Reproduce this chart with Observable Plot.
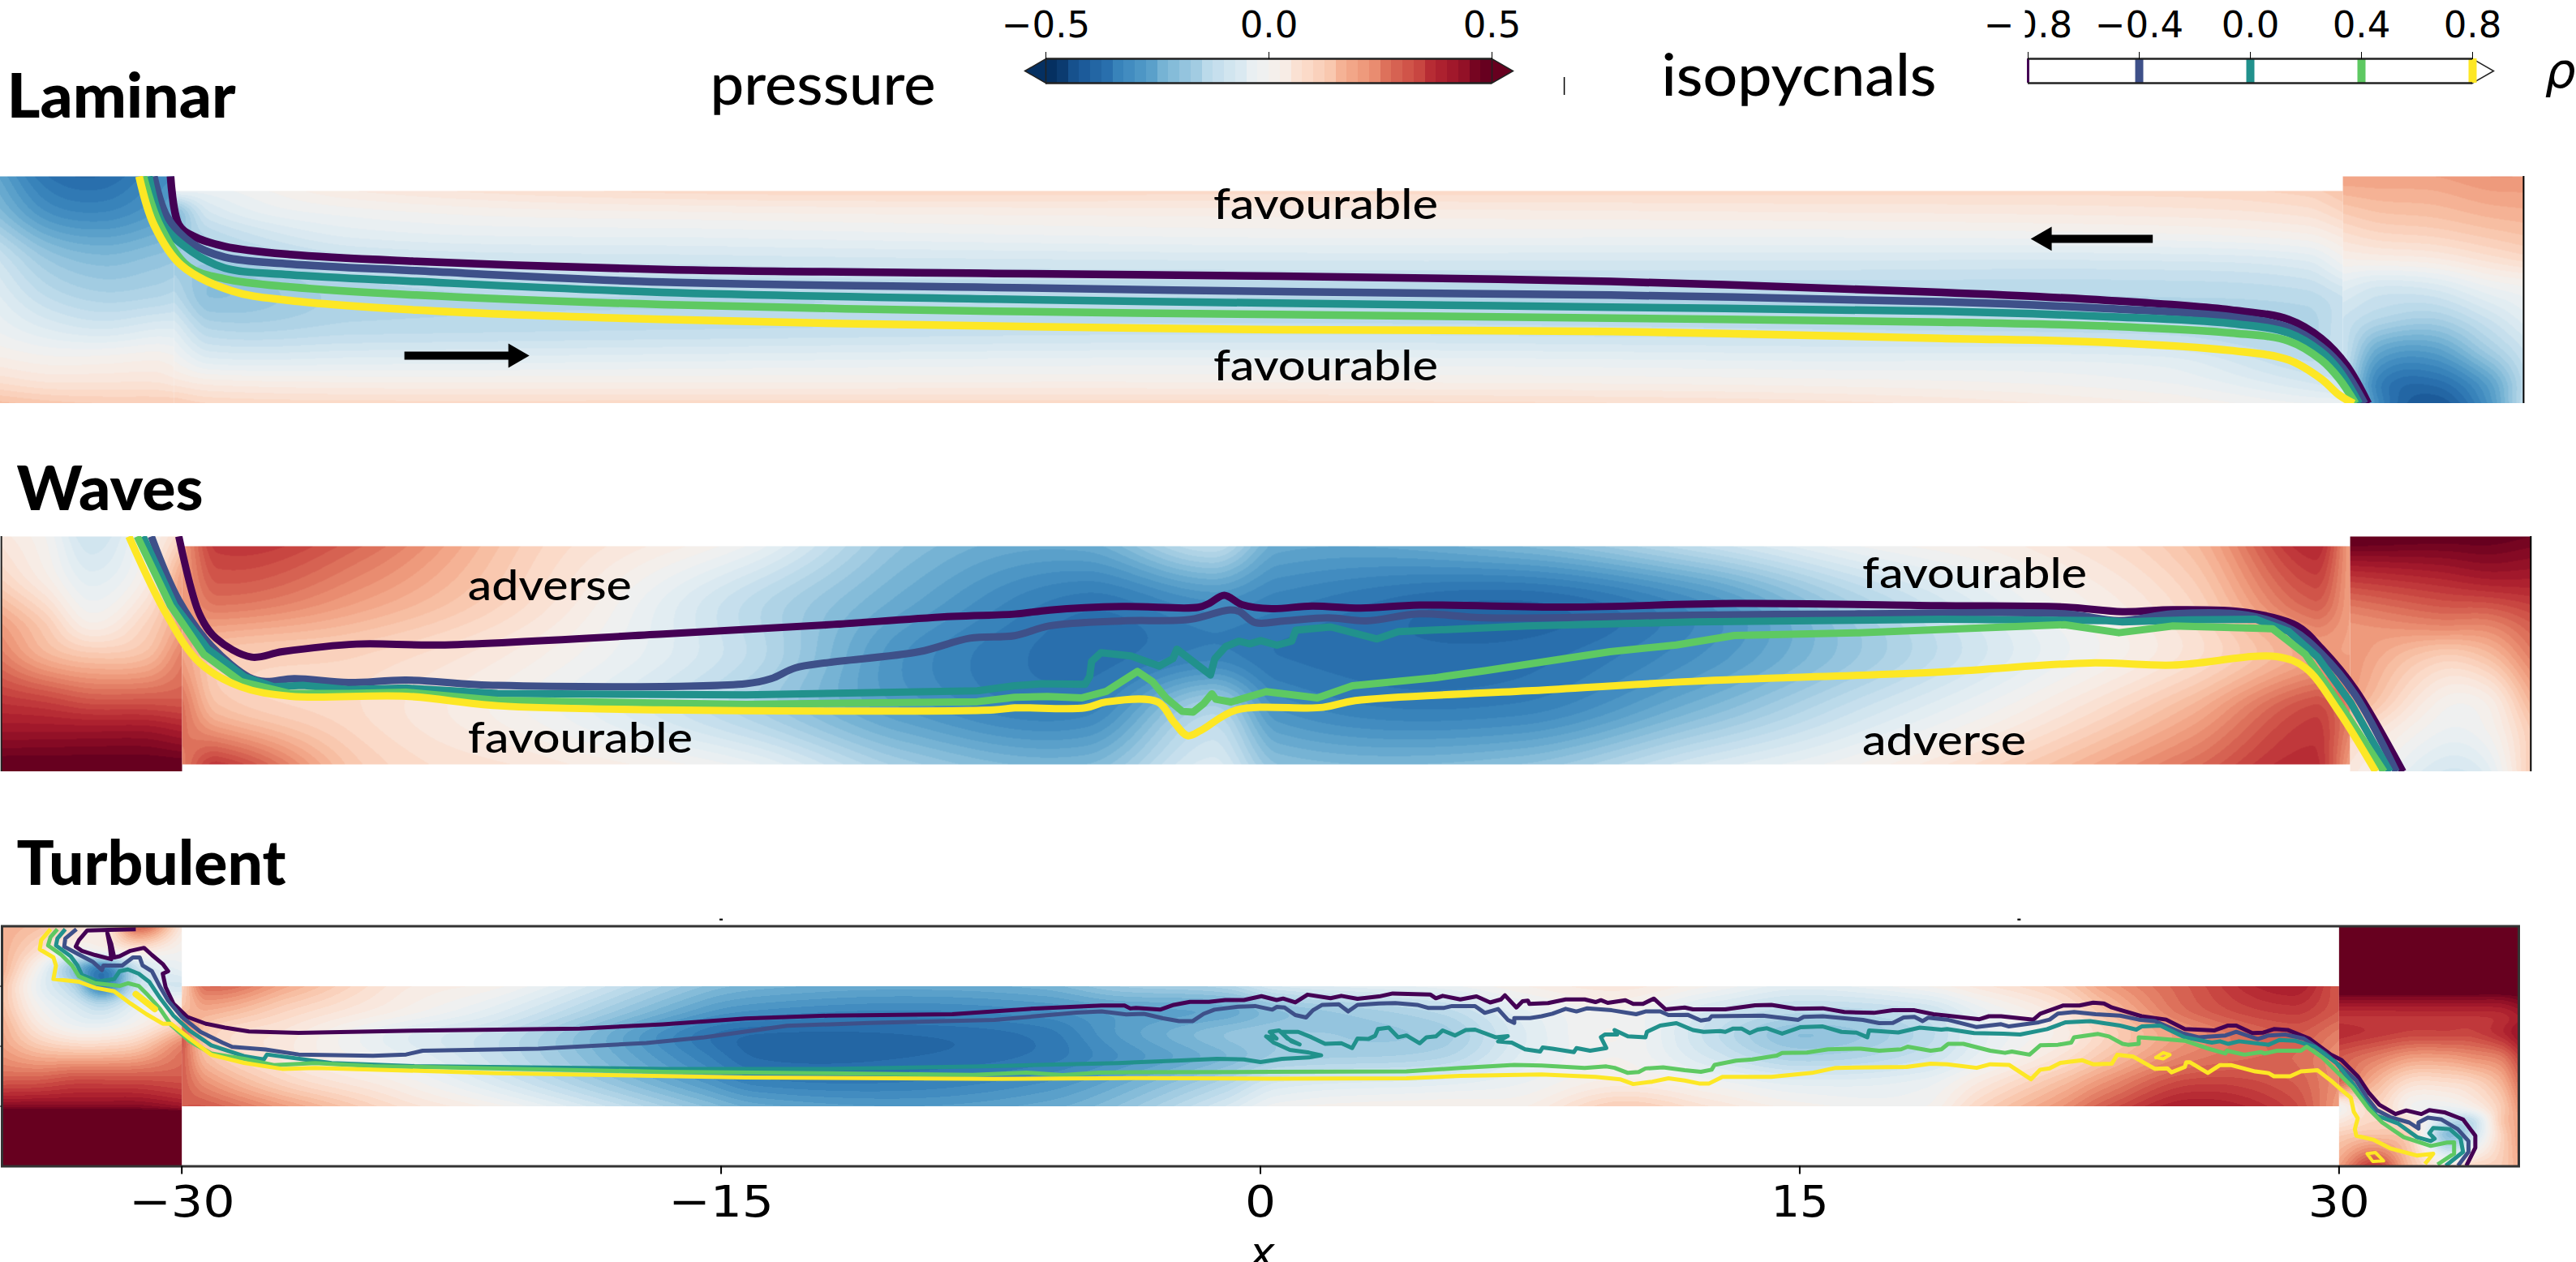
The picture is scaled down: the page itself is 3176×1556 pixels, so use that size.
<!DOCTYPE html>
<html><head><meta charset="utf-8">
<style>
html,body{margin:0;padding:0;background:#fff;width:3176px;height:1556px;overflow:hidden}
#page{position:relative;width:3176px;height:1556px;overflow:hidden}
#page svg{position:absolute;left:0;display:block;max-width:none;background:none}
</style>
<script src="https://cdn.jsdelivr.net/npm/d3@7"></script>
<script src="https://cdn.jsdelivr.net/npm/@observablehq/plot@0.6"></script>
</head><body><div id="page"></div>
<script>
// ---------- shared ----------
const rhoLevels = [-0.8,-0.4,0,0.4,0.8];
const rhoColors = ["#440154","#3e5089","#21918c","#5ec962","#fde725"];
const pressureTicks = [-0.5,0,0.5];
const xTicks = [-30,-15,0,15,30];
const colorBands = 40;

// ---------- pressure fields (columns xs, rows ys, values p) ----------
const lamLeftXs=[-35,-33.5,-32,-30.5,-30], lamResYs=[1.137,.8,.4,0,-.3,-.55,-.8,-1];
const lamLeftP=[
[-.25,-.36,-.38,-.32,-.3],[-.2,-.3,-.32,-.28,-.25],[-.1,-.19,-.22,-.2,-.19],[-.05,-.12,-.15,-.14,-.13],
[-.02,-.06,-.08,-.06,-.06],[.02,0,0,.01,.0],[.08,.06,.06,.06,.05],[.15,.13,.12,.12,.12]];
const lamChanXs=[-30,-29,-25,-15,0,15,25,29,30], lamChanYs=[1,.8,.6,.3,0,-.3,-.6,-.8,-1];
const lamChanP=[
[-.03,-.03,.04,.09,.09,.09,.09,.11,.14],
[-.22,-.08,-.01,.02,.03,.04,.05,.07,.1],
[-.2,-.13,-.05,-.03,-.01,-.01,0,.02,.05],
[-.17,-.18,-.12,-.1,-.09,-.09,-.09,-.07,-.02],
[-.13,-.2,-.15,-.14,-.14,-.14,-.14,-.13,-.1],
[-.06,-.14,-.13,-.12,-.11,-.12,-.13,-.15,-.1],
[0,-.05,-.05,-.04,-.03,-.04,-.05,-.12,-.1],
[.05,.03,.02,.02,.02,.01,-.02,-.08,-.1],
[.12,.1,.09,.09,.09,.07,.02,-.02,-.02]];
const lamRightXs=[30,31,32.5,34,35], lamRightYs=[1.137,.7,.4,.1,-.2,-.5,-.8,-1];
const lamRightP=[
[.2,.2,.2,.22,.22],[.1,.12,.13,.15,.16],[.03,.04,.05,.08,.1],[-.05,-.08,-.07,-.02,0],
[-.1,-.14,-.16,-.1,-.05],[-.1,-.25,-.27,-.17,-.1],[-.1,-.33,-.37,-.27,-.13],[-.05,-.32,-.42,-.3,-.12]];

const wavLeftXs=[-35,-33.8,-32.5,-31,-30], wavResYs=[1.089,.7,.3,0,-.4,-.7,-1.067];
const wavLeftP=[
[.05,0,-.1,0,.1],[.1,.03,-.05,.03,.2],[.2,.12,.02,.1,.2],[.25,.17,.13,.15,.25],
[.35,.33,.3,.3,.3],[.42,.42,.42,.42,.4],[.52,.52,.52,.52,.52]];
const wavChanXs=[-30,-29,-25,-20,-14.4,-10,-5,-1.5,.35,7,12,16.4,21,25.6,29,30], wavChanYs=[1,.5,0,-.5,-1];
const wavChanP=[
[.2,.35,.28,.1,-.02,-.2,-.25,-.12,-.25,-.22,-.12,-.02,.04,.15,.38,.2],
[.2,.27,.2,.07,-.12,-.25,-.35,-.3,-.33,-.38,-.3,-.15,-.02,.1,.3,.2],
[.2,.13,.1,.02,-.12,-.3,-.37,-.33,-.36,-.37,-.3,-.18,-.05,.07,.2,.2],
[.27,.15,.08,-.01,-.15,-.28,-.33,-.15,-.3,-.33,-.22,-.1,.02,.17,.33,.25],
[.25,.35,.12,.05,-.03,-.17,-.22,-.07,-.2,-.2,-.08,0,.12,.27,.37,.2]];
const wavRightXs=[30,32.5,33.8,35];
const wavRightP=[
[.52,.5,.5,.48],[.35,.38,.4,.4],[.22,.25,.25,.3],[.22,.12,.15,.25],
[.2,.02,.03,.17],[.1,-.02,0,.12],[.05,-.08,-.05,.12]];

const turLeftXs=[-35,-34,-33,-32.2,-31.2,-30], turLeftYs=[2,1.6,1.3,1,.7,.35,0,-.5,-1,-1.15,-2];
const turLeftP=[
[.18,.15,.1,.03,.3,.05],[.18,.08,-.02,0,.05,0],[.18,0,-.2,-.33,-.1,-.03],[.15,-.03,-.15,-.33,-.1,-.08],
[.15,0,-.08,-.14,-.04,.02],[.18,.05,-.02,-.03,.02,.12],[.2,.13,.1,.1,.13,.25],[.28,.28,.3,.3,.3,.3],
[.45,.45,.45,.45,.45,.42],[.55,.55,.55,.55,.55,.55],[.55,.55,.55,.55,.55,.55]];
const turChanXs=[-30,-29.3,-27,-24,-21,-15.5,-14,-10,-6,-4,-1,.5,5,7.4,10,12.5,15,18.5,20,22.3,23.5,25.8,28.7,30];
const turChanYs=[1,.6,.2,-.2,-.6,-1];
const turChanP=[
[.1,.28,.18,.05,0,-.2,-.23,-.25,-.23,-.18,-.15,-.08,-.03,.02,.05,0,-.05,0,.05,.12,.2,.3,.4,.3],
[.15,.18,.1,.02,-.06,-.27,-.3,-.32,-.3,-.27,-.25,-.2,-.13,-.04,0,-.08,-.13,-.1,-.03,.06,.14,.28,.35,.3],
[.3,.12,.05,-.05,-.12,-.35,-.38,-.38,-.35,-.28,-.2,-.18,-.17,-.06,0,-.11,-.2,-.13,-.05,.03,.1,.22,.3,.25],
[.3,.15,.05,-.03,-.12,-.33,-.38,-.38,-.35,-.3,-.22,-.17,-.14,-.05,0,-.08,-.15,-.1,-.03,.07,.14,.25,.28,.22],
[.3,.22,.1,.02,-.08,-.28,-.33,-.34,-.3,-.25,-.15,-.08,-.05,-.02,.03,-.01,-.05,-.03,.04,.15,.22,.33,.3,.22],
[.3,.3,.2,.08,0,-.2,-.25,-.28,-.25,-.2,-.08,-.01,.02,.02,.12,.06,.01,0,.1,.22,.3,.4,.33,.2]];
const turRightXs=[30,31,32,33,33.7,34.5,35], turRightYs=[2,1,.8,.5,.2,-.2,-.6,-1,-1.25,-1.5,-2];
const turRightP=[
[.55,.55,.55,.55,.55,.55,.55],[.55,.55,.55,.55,.55,.55,.55],[.45,.45,.45,.45,.45,.45,.47],
[.36,.36,.36,.36,.36,.37,.4],[.37,.35,.33,.33,.33,.37,.42],[.3,.25,.2,.2,.22,.25,.33],
[.28,.17,.08,.08,.1,.17,.27],[0,.1,0,-.02,.02,.12,.22],[.05,.1,.06,-.12,-.12,.12,.2],
[.12,.15,.1,-.2,-.1,.1,.2],[.2,.35,.15,.05,.1,.12,.18]];

// ---------- isopycnals: [x, y] readings ----------
const lamA=[[-30.1,1.137],[-29.87,.682],[-29.5,.58],[-28.6,.478],[-26.8,.402],[-23.3,.338],[-16.5,.262],[-7.3,.224],[.58,.198],[9.75,.148],[18.9,.046],[23.5,-.03],[26.9,-.12],[28.5,-.21],[29.4,-.387],[30.1,-.64],[30.7,-1]];
const lamB=[[-30.56,1.137],[-30.2,.758],[-29.5,.504],[-28.6,.377],[-26.8,.313],[-23.3,.249],[-16.5,.142],[-7.3,.092],[1.1,.051],[9.75,.02],[18.9,-.043],[23.5,-.107],[26.9,-.183],[28.5,-.285],[29.4,-.463],[30,-.667],[30.6,-1]];
const lamC=[[-30.7,1.137],[-30.3,.682],[-29.5,.427],[-28.6,.275],[-26.8,.211],[-23.3,.148],[-16.5,.046],[-7.3,-.018],[.58,-.056],[9.75,-.094],[18.9,-.132],[23.5,-.183],[26.9,-.247],[28.5,-.336],[29.4,-.514],[29.9,-.692],[30.45,-1]];
const lamD=[[-30.85,1.137],[-30.4,.682],[-29.6,.288],[-28.6,.173],[-26.8,.097],[-23.3,.02],[-16.5,-.069],[-7.3,-.132],[.58,-.163],[9.75,-.196],[18.9,-.234],[23.5,-.272],[26.9,-.336],[28.5,-.412],[29.4,-.59],[29.9,-.768],[30.35,-1]];
const lamE=[[-30.97,1.137],[-30.56,.682],[-29.8,.3],[-28.4,.059],[-26.8,-.031],[-23.3,-.12],[-16.5,-.209],[-7.3,-.272],[.58,-.305],[9.75,-.323],[18.9,-.387],[23.5,-.425],[26.9,-.501],[28.5,-.59],[29.4,-.768],[29.9,-.921],[30.3,-1]];

const wavA=[[-30.09,1.09],[-29.52,.38],[-29.06,.157],[-28.08,-.016],[-27.23,.033],[-25.17,.103],[-22.88,.095],[-16.69,.195],[-12.11,.28],[-8.68,.356],[-6.96,.378],[-5.99,.415],[-3.97,.447],[-1.87,.44],[-1.57,.477],[-1.16,.55],[-.67,.465],[.15,.428],[1.27,.452],[2.62,.433],[4.25,.46],[8.38,.442],[12.96,.475],[18.7,.455],[22.1,.442],[23.7,.4],[25.1,.418],[27.16,.393],[28.53,.27],[29.22,.058],[30.14,-.313],[31.46,-1.067]];
const wavB=[[-30.85,1.09],[-30.09,.504],[-29.18,.083],[-28.15,-.2],[-27.69,-.24],[-26.9,-.214],[-25.4,-.25],[-23.8,-.227],[-21.27,-.276],[-14.4,-.26],[-13.7,-.214],[-13.03,-.115],[-12.11,-.066],[-9.6,.033],[-8.2,.157],[-6.96,.18],[-5.99,.27],[-3.97,.316],[-2.1,.33],[-1.05,.415],[-.75,.403],[-.3,.3],[.52,.316],[1.73,.343],[2.77,.316],[4.25,.38],[6.09,.343],[11.8,.368],[16.4,.38],[22.1,.38],[23.6,.318],[25.1,.38],[27.16,.368],[28.4,.232],[29.22,.009],[30.14,-.363],[31.28,-1.067]];
const wavC=[[-31.08,1.09],[-30.2,.455],[-29.29,.058],[-28.26,-.2],[-27.46,-.289],[-26.66,-.276],[-25.4,-.314],[-23.8,-.3],[-21.27,-.35],[-14.4,-.363],[-7.99,-.326],[-6.96,-.279],[-6.21,-.261],[-5.01,-.266],[-4.88,-.192],[-4.83,-.056],[-4.57,.024],[-3.74,-.006],[-2.96,-.098],[-2.58,-.031],[-2.47,.056],[-1.54,-.18],[-1.42,-.031],[-1.12,.08],[-.75,.13],[-.45,.105],[-.15,.135],[.3,.093],[.71,.13],[.82,.23],[1.79,.26],[3.07,.15],[3.66,.217],[7.23,.269],[11.8,.306],[18.7,.33],[23.26,.318],[23.7,.306],[25.55,.326],[27.39,.33],[28.3,.219],[29.1,-.016],[30.02,-.437],[31.1,-1.067]];
const wavD=[[-31.24,1.09],[-30.32,.455],[-29.4,.009],[-28.37,-.24],[-27,-.35],[-25.4,-.35],[-23.8,-.338],[-21.27,-.413],[-14.4,-.45],[-7.99,-.425],[-6.96,-.385],[-6.06,-.378],[-5.09,-.39],[-4.42,-.33],[-3.56,-.148],[-3.14,-.242],[-2.77,-.39],[-2.32,-.514],[-2.02,-.52],[-1.72,-.44],[-1.5,-.353],[-1.39,-.403],[-.97,-.428],[0,-.333],[1.42,-.39],[2.39,-.279],[4.71,-.204],[6.09,-.14],[9.52,.033],[11.35,.095],[12.96,.182],[16.4,.207],[22.1,.281],[23.6,.207],[25.1,.269],[27.85,.244],[28.76,.009],[29.79,-.487],[30.94,-1.067]];
const wavE=[[-31.47,1.09],[-30.44,.38],[-29.52,-.066],[-28.37,-.289],[-27,-.375],[-23.8,-.375],[-21.27,-.462],[-16.69,-.5],[-7.53,-.5],[-6.96,-.482],[-5.01,-.482],[-4.42,-.427],[-3,-.427],[-2.55,-.613],[-2.17,-.737],[-1.8,-.688],[-.83,-.502],[1.57,-.477],[2.47,-.415],[7.23,-.326],[11.8,-.239],[18.7,-.152],[22.8,-.07],[25.1,-.09],[27.96,-.011],[28.76,-.115],[29.68,-.512],[30.71,-1.067]];

const turA=[[-31.28,1.95],[-32.03,1.94],[-32.63,1.93],[-32.86,1.77],[-32.95,1.66],[-32.78,1.59],[-32.41,1.52],[-31.96,1.45],[-32,1.66],[-32.07,1.885],[-31.96,1.7],[-31.88,1.48],[-31.73,1.5],[-31.43,1.59],[-31.05,1.64],[-30.83,1.52],[-30.53,1.37],[-30.38,1.25],[-30.53,1.21],[-30.45,.985],[-30.23,.71],[-29.85,.49],[-29.33,.375],[-28.8,.31],[-28.13,.246],[-26.75,.222],[-23.53,.26],[-18.93,.294],[-16.62,.366],[-14.32,.462],[-12.02,.51],[-8.57,.534],[-6.26,.63],[-4.42,.678],[-3.78,.678],[-3.62,.63],[-3.46,.64],[-2.79,.61],[-2.41,.69],[-1.96,.74],[-1.43,.74],[-.98,.77],[-.46,.77],[.03,.835],[.45,.77],[.63,.795],[.97,.73],[1.31,.86],[1.95,.8],[2.25,.84],[2.7,.79],[3.3,.83],[3.68,.88],[4.73,.86],[4.88,.8],[5.07,.84],[5.56,.78],[6.01,.83],[6.39,.73],[6.69,.78],[6.8,.85],[7.12,.646],[7.29,.75],[7.44,.76],[7.48,.705],[8.0,.72],[8.49,.78],[9.02,.78],[9.32,.736],[9.47,.768],[9.66,.723],[10.15,.768],[10.37,.705],[10.64,.705],[10.94,.795],[11.27,.615],[11.8,.646],[12.03,.615],[12.93,.615],[13.76,.682],[14.21,.69],[14.88,.624],[15.64,.633],[16.24,.57],[17.06,.556],[17.59,.6],[18.19,.6],[18.72,.534],[19.1,.51],[20,.45],[20.26,.5],[20.6,.5],[21.5,.444],[21.69,.543],[22.33,.68],[22.78,.68],[23.16,.727],[23.46,.714],[23.68,.646],[24.51,.5],[25.19,.444],[25.71,.286],[26.54,.264],[26.9,.344],[27.14,.344],[27.59,.22],[27.89,.228],[28.19,.286],[28.57,.272],[29.17,.128],[29.77,-.14],[30.07,-.23],[30.52,-.5],[30.82,-.77],[31.12,-.975],[31.57,-1.13],[31.87,-1.07],[32.29,-1.13],[32.51,-1.065],[32.93,-1.1],[33.45,-1.22],[33.79,-1.49],[33.79,-1.69],[33.54,-1.99]];
const turB=[[-32.93,1.95],[-33.24,1.795],[-33.27,1.66],[-32.93,1.55],[-32.48,1.41],[-32.22,1.27],[-32.18,1.345],[-31.66,1.345],[-31.36,1.48],[-31.17,1.48],[-31.09,1.345],[-30.83,1.25],[-30.6,.985],[-30.38,.76],[-30,.49],[-29.48,.24],[-28.87,.06],[-28.6,-.01],[-27.67,-.055],[-26.75,-.137],[-24.68,-.16],[-23.76,-.137],[-23.3,-.075],[-20.08,-.04],[-17.08,.055],[-15.47,.15],[-13.17,.34],[-10.87,.39],[-7.4,.44],[-5.11,.56],[-4.42,.58],[-3.73,.53],[-3.24,.54],[-2.71,.467],[-2.26,.42],[-1.88,.42],[-1.58,.54],[-1.28,.61],[-.61,.66],[-.15,.67],[.33,.61],[.45,.655],[.67,.646],[.97,.52],[1.27,.48],[1.46,.6],[1.72,.69],[2.18,.7],[2.44,.58],[2.7,.69],[3.3,.714],[3.75,.72],[4.36,.69],[4.66,.64],[5.11,.64],[5.33,.67],[5.97,.67],[6.24,.556],[6.61,.62],[6.88,.44],[7.06,.39],[7.06,.47],[7.5,.47],[7.82,.5],[8.12,.543],[8.49,.624],[8.79,.58],[9.09,.633],[9.77,.6],[10.45,.534],[10.71,.58],[11.12,.58],[11.35,.52],[11.88,.525],[12.25,.43],[12.48,.45],[12.55,.5],[13.98,.51],[14.96,.44],[15.11,.49],[15.64,.5],[16.76,.44],[17.21,.385],[17.59,.39],[17.89,.48],[18.19,.49],[18.42,.42],[18.57,.475],[19.1,.444],[19.92,.32],[20.6,.367],[20.82,.33],[21.65,.4],[21.95,.444],[22.18,.543],[22.63,.57],[23.23,.534],[23.91,.51],[24.43,.444],[24.88,.42],[25.64,.218],[26.09,.15],[26.84,.18],[27.14,.24],[27.74,.12],[28.04,.18],[28.5,.196],[29.02,.128],[29.62,-.12],[30.15,-.39],[30.48,-.57],[30.78,-.86],[31.05,-1.065],[31.42,-1.18],[31.95,-1.27],[32.21,-1.37],[32.21,-1.27],[32.47,-1.19],[32.85,-1.22],[33.3,-1.38],[33.6,-1.58],[33.6,-1.76],[33.31,-1.99]];
const turC=[[-33.24,1.95],[-33.46,1.795],[-33.5,1.68],[-33.09,1.5],[-32.9,1.345],[-32.78,1.19],[-32.33,1.08],[-31.88,1.12],[-31.73,1.25],[-31.5,1.28],[-31.2,1.21],[-30.9,1.07],[-30.6,.8],[-30.23,.51],[-29.78,.26],[-29.18,.015],[-28.27,-.165],[-27.72,-.22],[-27.63,-.137],[-25.83,-.28],[-23.53,-.33],[-16.62,-.377],[-12.02,-.377],[-7.42,-.33],[-3.96,-.28],[-3.46,-.268],[-2.34,-.24],[-1.21,-.21],[-.46,-.22],[0,-.264],[.6,-.21],[1.35,-.187],[1.69,-.15],[1.35,-.106],[.82,-.06],[.37,.06],[.16,.164],[.45,.128],[.26,.24],[.52,.264],[.86,.083],[1.09,.03],[.75,.128],[.56,.24],[1.05,.24],[1.42,.15],[1.8,.04],[2.25,.05],[2.55,-.03],[2.7,.128],[3,.12],[3.19,.174],[3.27,.286],[3.57,.31],[3.83,.15],[4.06,.18],[4.43,.05],[4.62,.15],[4.88,.164],[5.07,.264],[5.41,.18],[5.71,.27],[5.97,.277],[6.54,.15],[6.88,.17],[6.61,.08],[6.99,.06],[7.36,-.05],[7.78,-.088],[7.85,-.02],[8.12,-.04],[8.72,-.097],[8.79,-.03],[9.17,-.075],[9.62,-.03],[9.47,.15],[9.58,.196],[9.92,.196],[9.85,.27],[10.22,.164],[10.71,.15],[10.75,.24],[11.12,.345],[11.57,.385],[12.03,.27],[12.33,.24],[12.78,.254],[12.93,.24],[13.15,.295],[13.38,.295],[13.61,.22],[13.83,.277],[14.09,.3],[14.51,.21],[15.03,.318],[15.64,.33],[16.16,.24],[16.58,.227],[16.88,.15],[16.93,.264],[17.74,.23],[18.34,.31],[18.94,.277],[19.1,.286],[19.85,.22],[20.67,.21],[21.13,.196],[21.88,.286],[22.4,.4],[23.08,.42],[23.91,.344],[24.36,.277],[24.51,.33],[25.03,.344],[25.71,.15],[26.46,.06],[26.69,.083],[26.92,.04],[27.22,.083],[28.04,.025],[28.34,.106],[28.79,.09],[29.32,-.007],[29.92,-.277],[30.41,-.64],[30.74,-.93],[31.05,-1.155],[31.65,-1.29],[32.17,-1.515],[32.55,-1.58],[32.66,-1.54],[32.51,-1.45],[32.62,-1.36],[33.08,-1.38],[33.38,-1.54],[33.45,-1.76],[32.97,-1.99]];
const turD=[[-33.46,1.95],[-33.65,1.82],[-33.72,1.68],[-33.35,1.525],[-33.05,1.345],[-32.86,1.164],[-32.41,1.05],[-31.73,1.006],[-31.5,1.05],[-31.2,1.006],[-30.94,.85],[-30.6,.62],[-30.3,.355],[-29.78,.083],[-29.18,-.12],[-28.27,-.21],[-27.44,-.314],[-26.29,-.28],[-24.68,-.33],[-16.62,-.425],[-12.02,-.45],[-9,-.47],[-8,-.475],[-6.5,-.44],[-5.5,-.48],[-4.5,-.44],[-3.46,-.434],[.3,-.426],[4.06,-.42],[5.56,-.36],[7.06,-.31],[7.82,-.32],[9.02,-.36],[9.62,-.336],[9.85,-.36],[10.22,-.444],[10.52,-.43],[10.71,-.37],[11.2,-.35],[11.8,-.4],[12.25,-.426],[12.55,-.39],[12.63,-.31],[13.23,-.24],[13.68,-.22],[14.36,-.155],[14.51,-.11],[15.2,-.106],[15.79,-.05],[16.69,-.04],[17.21,-.074],[17.82,-.05],[18,-.007],[18.64,-.074],[18.94,-.05],[19.13,.04],[19.55,.04],[20.3,-.074],[20.71,-.11],[20.9,-.088],[21.39,-.14],[21.69,.016],[22.18,.025],[22.55,.06],[22.63,.15],[23.3,.205],[23.6,.164],[23.98,.04],[24.13,.025],[24.43,.04],[24.43,.15],[24.96,.128],[25.71,.092],[26.31,-.03],[26.84,-.12],[26.88,-.074],[27.37,-.14],[27.82,-.097],[27.93,-.12],[28.27,-.074],[28.94,-.074],[29.1,-.007],[29.54,-.19],[30.37,-.68],[30.82,-1.04],[31.2,-1.27],[31.8,-1.515],[32.55,-1.66],[33,-1.605],[33.2,-1.6],[33.2,-1.79],[32.74,-1.97]];
const turE=[[-33.65,1.95],[-33.91,1.77],[-33.95,1.615],[-33.57,1.48],[-33.5,1.345],[-33.57,1.12],[-32.86,1.074],[-32.41,.975],[-31.88,.916],[-31.43,.714],[-30.98,.534],[-30.53,.376],[-30.3,.376],[-29.78,.128],[-29.18,-.142],[-28.27,-.277],[-27.21,-.377],[-26.29,-.36],[-21.23,-.448],[-14.32,-.52],[-7.42,-.544],[-3.46,-.53],[.3,-.54],[4.06,-.533],[5.56,-.493],[7.82,-.47],[9.32,-.51],[10,-.55],[10.37,-.63],[10.9,-.59],[11.35,-.534],[11.8,-.57],[12.2,-.62],[12.48,-.62],[12.85,-.51],[14.21,-.51],[15.34,-.444],[16,-.36],[17.97,-.345],[18.64,-.29],[19.1,-.3],[19.92,-.36],[20.3,-.3],[20.82,-.31],[21.43,-.55],[21.69,-.39],[21.95,-.367],[22.25,-.277],[22.85,-.232],[23.16,-.3],[23.68,-.29],[23.83,-.142],[24.28,-.173],[24.88,-.376],[25.22,-.367],[25.34,-.435],[25.71,-.345],[25.75,-.268],[25.86,-.268],[26.35,-.444],[26.69,-.313],[26.99,-.313],[27.67,-.42],[28.04,-.448],[28.19,-.5],[28.64,-.5],[28.94,-.42],[29.4,-.4],[29.77,-.57],[30.07,-.727],[30.33,-.86],[30.41,-1.09],[30.52,-1.2],[30.44,-1.38],[30.48,-1.49],[30.97,-1.56],[31.42,-1.7],[32.16,-1.82],[32.62,-1.79],[32.39,-1.96]];
const turEBlob=[[-31.28,.87],[-30.75,.62]];
const turELoopA=[[24.9,-.187],[25.11,-.106],[25.3,-.142],[25.11,-.21],[24.9,-.187]];
const turELoopB=[[30.78,-1.79],[31.01,-1.77],[31.24,-1.91],[30.94,-1.92],[30.78,-1.79]];

// ---------- layout ----------
const page=document.getElementById("page");
const colorScale={type:"quantize",n:colorBands,scheme:"RdBu",reverse:true,domain:[-0.5,0.5]};
const tickFont="DejaVu Sans", labelFont="Lato";
const minus=d=>String(d).replace("-","−");
const fixed=d=>d.toFixed(1).replace("-","−");

// Smooth reading of a table of values, drawn by Plot.raster as a sampled field
function hermite(xs,vs,x){
  const n=xs.length;
  let i=d3.bisectRight(xs,x)-1;
  i=Math.max(0,Math.min(n-2,i));
  const h=xs[i+1]-xs[i], t=(x-xs[i])/h;
  const m0=i>0?(vs[i+1]-vs[i-1])/(xs[i+1]-xs[i-1]):(vs[1]-vs[0])/(xs[1]-xs[0]);
  const m1=i<n-2?(vs[i+2]-vs[i])/(xs[i+2]-xs[i]):(vs[n-1]-vs[n-2])/(xs[n-1]-xs[n-2]);
  const t2=t*t,t3=t2*t;
  return (2*t3-3*t2+1)*vs[i]+(t3-2*t2+t)*h*m0+(-2*t3+3*t2)*vs[i+1]+(t3-t2)*h*m1;
}
function grid(xs,ys,p){
  const order=d3.range(ys.length).sort((a,b)=>ys[a]-ys[b]);
  const sy=order.map(j=>ys[j]), rows=order.map(j=>p[j]);
  const memo=new Map();
  const column=x=>{let c=memo.get(x);if(!c){c=rows.map(r=>hermite(xs,r,x));memo.set(x,c);}return c;};
  return Plot.raster({fill:(x,y)=>hermite(sy,column(x),y),pixelSize:1,
    x1:xs[0],x2:xs[xs.length-1],y1:sy[0],y2:sy[sy.length-1]});
}
function iso(series,width,curves){
  return series.map((s,i)=>Plot.line(s,{x:d=>d[0],y:d=>d[1],stroke:rhoColors[i],strokeWidth:width,curve:curves[i],strokeLinejoin:"round",strokeLinecap:"butt"}));
}
function notes(list,size){
  return Plot.text(list,{x:"x",y:"y",text:"t",textAnchor:"start",lineAnchor:"bottom",fontSize:size,fontWeight:500,fontFamily:labelFont,fill:"black"});
}
const fitWidths={"favourable":277,"adverse":202,"Laminar":282,"Waves":230,"Turbulent":332,"pressure":278,"isopycnals":339,
  "−30":131,"−15":130,"0":38,"15":71,"30":76};
function place(svg,top){
  svg.style.top=top+"px";
  svg.querySelectorAll("text").forEach(t=>{
    const w=fitWidths[t.textContent];
    if(w){t.setAttribute("textLength",w);t.setAttribute("lengthAdjust","spacingAndGlyphs");}
  });
  page.appendChild(svg);
}
const cr="catmull-rom", li="linear";

// Laminar panel
place(Plot.plot({width:3176,height:280,margin:0,marginRight:65,
  x:{domain:[-35,35],range:[-8.6,3110.9]},y:{domain:[-1,1.137],range:[280,0]},color:colorScale,axis:null,
  marks:[
    grid(lamLeftXs,lamResYs,lamLeftP),grid(lamChanXs,lamChanYs,lamChanP),grid(lamRightXs,lamRightYs,lamRightP),
    ...iso([lamA,lamB,lamC,lamD,lamE],9.5,[cr,cr,cr,cr,cr]),
    Plot.ruleX([35],{stroke:"black",strokeWidth:2}),
    Plot.link([{a:-23.63,b:-20.7,y:-.55},{a:24.74,b:21.9,y:.55}],{x1:"a",x2:"b",y1:"y",y2:"y",stroke:"black",strokeWidth:10}),
    Plot.dot([{x:-20.56,y:-.55,r:90},{x:21.75,y:.55,r:-90}],{x:"x",y:"y",rotate:"r",symbol:"triangle",r:11.1,fill:"black"}),
    notes([{x:-1.25,y:.733,t:"favourable"},{x:-1.25,y:-.779,t:"favourable"}],52)
  ]}),217);

// Waves panel
place(Plot.plot({width:3176,height:290,margin:0,marginRight:56,
  x:{domain:[-35,35],range:[1.2,3119.8]},y:{domain:[-1.067,1.089],range:[290,0]},color:colorScale,axis:null,
  marks:[
    grid(wavLeftXs,wavResYs,wavLeftP),grid(wavChanXs,wavChanYs,wavChanP),grid(wavRightXs,wavResYs,wavRightP),
    ...iso([wavA,wavB,wavC,wavD,wavE],9,[cr,cr,li,li,cr]),
    Plot.ruleX([35],{stroke:"black",strokeWidth:2}),
    Plot.ruleX([-35],{stroke:"#222",strokeWidth:2}),
    notes([{x:-22.09,y:.509,t:"adverse"},{x:-22.09,y:-.896,t:"favourable"},{x:16.5,y:.62,t:"favourable"},{x:16.5,y:-.911,t:"adverse"}],52)
  ]}),661);

// Turbulent panel
place(Plot.plot({width:3176,height:426,marginTop:11.5,marginBottom:118.5,marginLeft:2,marginRight:71,
  x:{domain:[-35,35]},y:{domain:[-2,2]},color:colorScale,
  marks:[
    grid(turLeftXs,turLeftYs,turLeftP),grid(turChanXs,turChanYs,turChanP),grid(turRightXs,turRightYs,turRightP),
    ...iso([turA,turB,turC,turD,turE],5,[li,li,li,li,li]),
    Plot.line(turEBlob,{x:d=>d[0],y:d=>d[1],stroke:rhoColors[4],strokeWidth:8,strokeLinecap:"round"}),
    Plot.line(turELoopA,{x:d=>d[0],y:d=>d[1],stroke:rhoColors[4],strokeWidth:4}),
    Plot.line(turELoopB,{x:d=>d[0],y:d=>d[1],stroke:rhoColors[4],strokeWidth:4}),
    Plot.frame({stroke:"#333",strokeWidth:3}),
    Plot.axisX({anchor:"bottom",ticks:xTicks,tickSize:10,tickPadding:14,tickFormat:minus,fontSize:54,fontFamily:tickFont,label:null,strokeWidth:2}),
    Plot.axisY({anchor:"left",ticks:[-1,0,1],tickSize:2,tickFormat:()=>"",label:null}),
    Plot.ruleX([-15,21.1],{y1:2.12,y2:2.09,stroke:"black",strokeWidth:4}),
    Plot.text(["x"],{x:.05,y:-3.67,text:d=>d,fontSize:52,fontFamily:tickFont,fontStyle:"italic",lineAnchor:"bottom",fill:"black"})
  ]}),1130);

// Pressure colour bar
const pressureBands=d3.range(colorBands).map(i=>{const w=1/colorBands;return {a:-.5+i*w,b:-.5+(i+1)*w,p:-.5+(i+.5)*w};});
place(Plot.plot({width:3176,height:120,marginTop:72,marginBottom:18,marginLeft:1289,marginRight:1337,
  x:{domain:[-.5,.5]},y:{domain:[0,1],axis:null},color:colorScale,
  marks:[
    Plot.rect(pressureBands,{x1:"a",x2:"b",y1:0,y2:1,fill:"p",shapeRendering:"crispEdges"}),
    Plot.ruleY([0,1],{stroke:"#222",strokeWidth:2.5}),
    Plot.dot([{x:-.5,p:-.6,r:-90}],{x:"x",y:.5,fill:"p",rotate:"r",symbol:"triangle",r:11.1,dx:-8.66,stroke:"#222",strokeWidth:1.5}),
    Plot.dot([{x:.5,p:.6,r:90}],{x:"x",y:.5,fill:"p",rotate:"r",symbol:"triangle",r:11.1,dx:8.66,stroke:"#222",strokeWidth:1.5}),
    Plot.axisX({anchor:"top",ticks:pressureTicks,tickSize:9,tickPadding:18,tickFormat:fixed,fontSize:45,fontFamily:tickFont,label:null}),
    Plot.ruleX([.662],{y1:.233,y2:-.5,stroke:"black",strokeWidth:1.5})
  ]}),0);

// Isopycnal colour bar
place(Plot.plot({width:3176,height:120,marginTop:72,marginBottom:18,marginLeft:2500,marginRight:128,
  x:{domain:[-.8,.8]},y:{domain:[0,1],axis:null},
  marks:[
    Plot.dot([.8],{x:d=>d,y:.5,rotate:90,symbol:"triangle",r:11.1,dx:8.66,fill:"white",stroke:"#222",strokeWidth:1.5}),
    ...rhoLevels.map((l,i)=>Plot.ruleX([l],{y1:0,y2:1,stroke:rhoColors[i],strokeWidth:i==0?3:10})),
    Plot.ruleY([0,1],{stroke:"#222",strokeWidth:2.5}),
    Plot.axisX({anchor:"top",ticks:rhoLevels,tickSize:9,tickPadding:18,tickFormat:fixed,fontSize:45,fontFamily:tickFont,label:null}),
    Plot.rect([{}],{x1:-.858,x2:-.81,y1:1.73,y2:3.4,fill:"white"}),
    Plot.text(["ρ"],{x:1.06,y:-.167,text:d=>d,textAnchor:"start",lineAnchor:"bottom",fontSize:60,fontFamily:tickFont,fontStyle:"italic",fill:"black"})
  ]}),0);

// Headings
const panelTitles=[
  {t:"Laminar",x:8,y:144},
  {t:"Waves",x:20,y:628},
  {t:"Turbulent",x:20,y:1090}
];
const barTitles=[
  {t:"pressure",x:875,y:128},
  {t:"isopycnals",x:2048,y:117}
];
place(Plot.plot({width:3176,height:1556,margin:0,axis:null,x:{domain:[0,3176],range:[0,3176]},y:{domain:[0,1556],range:[0,1556]},
  marks:[
    Plot.text(panelTitles,{x:"x",y:"y",text:"t",fontSize:77,fontWeight:900,fontFamily:labelFont,textAnchor:"start",lineAnchor:"bottom",fill:"black"}),
    Plot.text(barTitles,{x:"x",y:"y",text:"t",fontSize:72,fontWeight:500,fontFamily:labelFont,textAnchor:"start",lineAnchor:"bottom",fill:"black"})
  ]}),0);
</script></body></html>
